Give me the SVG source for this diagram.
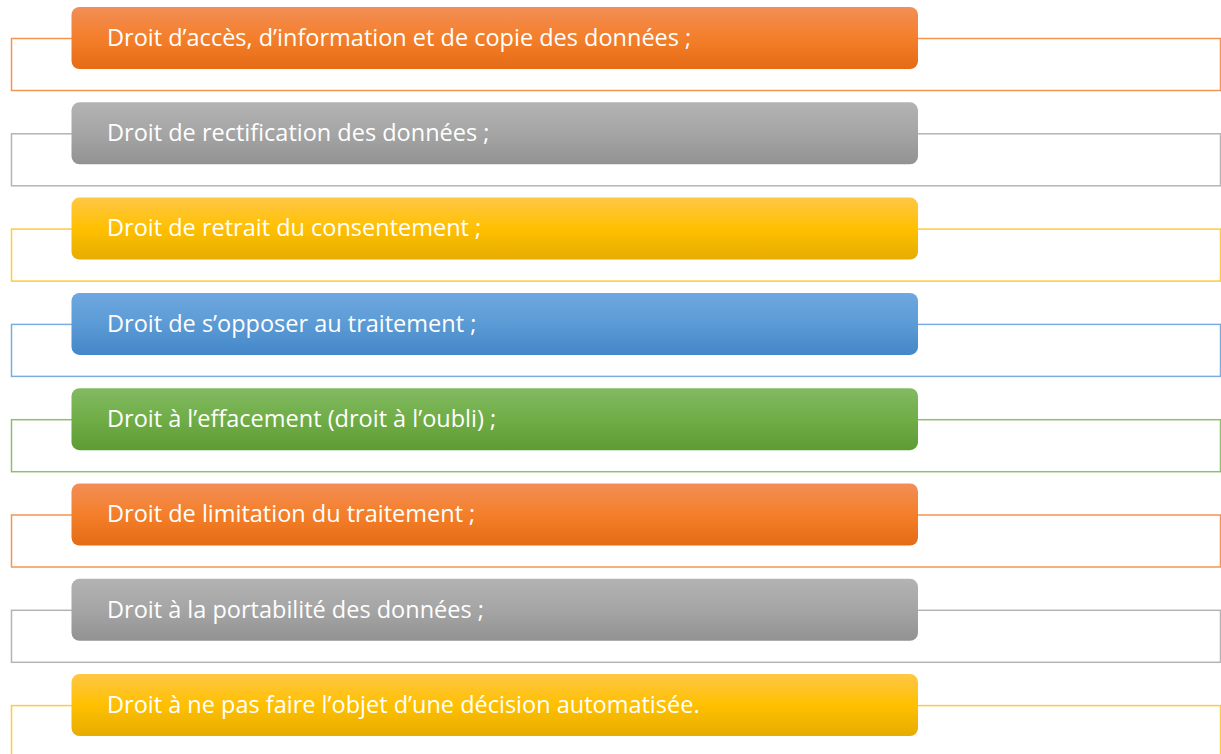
<svg xmlns="http://www.w3.org/2000/svg" width="1221" height="754" viewBox="0 0 1221 754">
<style>
.box{fill:#fff;stroke-width:1.5}
.t{font-family:"Open Sans","DejaVu Sans",sans-serif;font-size:23.5px;fill:#fff}
</style>
<defs>
<linearGradient id="gO" x1="0" y1="0" x2="0" y2="1"><stop offset="0" stop-color="#F28E57"/><stop offset="0.5" stop-color="#F47F2A"/><stop offset="1" stop-color="#E56B15"/></linearGradient>
<linearGradient id="gG" x1="0" y1="0" x2="0" y2="1"><stop offset="0" stop-color="#B3B3B3"/><stop offset="0.5" stop-color="#A5A5A5"/><stop offset="1" stop-color="#929292"/></linearGradient>
<linearGradient id="gY" x1="0" y1="0" x2="0" y2="1"><stop offset="0" stop-color="#FFC746"/><stop offset="0.5" stop-color="#FFC000"/><stop offset="1" stop-color="#E6AC00"/></linearGradient>
<linearGradient id="gB" x1="0" y1="0" x2="0" y2="1"><stop offset="0" stop-color="#6EA8E0"/><stop offset="0.5" stop-color="#5B9BD5"/><stop offset="1" stop-color="#4486C8"/></linearGradient>
<linearGradient id="gV" x1="0" y1="0" x2="0" y2="1"><stop offset="0" stop-color="#82BA62"/><stop offset="0.5" stop-color="#70AD47"/><stop offset="1" stop-color="#5D9B33"/></linearGradient>
</defs>
<g id="connectors">
<rect class="box" x="11.5" y="38.5" width="1209" height="52" stroke="#F5944F"/>
<rect class="box" x="11.5" y="133.8" width="1209" height="52" stroke="#B4B4B4"/>
<rect class="box" x="11.5" y="229.1" width="1209" height="52" stroke="#FFCB3A"/>
<rect class="box" x="11.5" y="324.4" width="1209" height="52" stroke="#79ADE0"/>
<rect class="box" x="11.5" y="419.7" width="1209" height="52" stroke="#8CC06C"/>
<rect class="box" x="11.5" y="515" width="1209" height="52" stroke="#F5944F"/>
<rect class="box" x="11.5" y="610.3" width="1209" height="52" stroke="#B4B4B4"/>
<rect class="box" x="11.5" y="705.6" width="1209" height="52" stroke="#FFCB3A"/>
</g>
<g id="n1"><rect x="71.5" y="7" width="846.5" height="62" rx="8" fill="url(#gO)"/><text class="t" x="107" y="45.7">Droit d’accès, d’information et de copie des données ;</text></g>
<g id="n2"><rect x="71.5" y="102.3" width="846.5" height="62" rx="8" fill="url(#gG)"/><text class="t" x="107" y="141">Droit de rectification des données ;</text></g>
<g id="n3"><rect x="71.5" y="197.6" width="846.5" height="62" rx="8" fill="url(#gY)"/><text class="t" x="107" y="236.3">Droit de retrait du consentement ;</text></g>
<g id="n4"><rect x="71.5" y="292.9" width="846.5" height="62" rx="8" fill="url(#gB)"/><text class="t" x="107" y="331.6">Droit de s’opposer au traitement ;</text></g>
<g id="n5"><rect x="71.5" y="388.2" width="846.5" height="62" rx="8" fill="url(#gV)"/><text class="t" x="107" y="426.9">Droit à l’effacement (droit à l’oubli) ;</text></g>
<g id="n6"><rect x="71.5" y="483.5" width="846.5" height="62" rx="8" fill="url(#gO)"/><text class="t" x="107" y="522.2">Droit de limitation du traitement ;</text></g>
<g id="n7"><rect x="71.5" y="578.8" width="846.5" height="62" rx="8" fill="url(#gG)"/><text class="t" x="107" y="617.5">Droit à la portabilité des données ;</text></g>
<g id="n8"><rect x="71.5" y="674.1" width="846.5" height="62" rx="8" fill="url(#gY)"/><text class="t" x="107" y="712.8">Droit à ne pas faire l’objet d’une décision automatisée.</text></g>
</svg>
